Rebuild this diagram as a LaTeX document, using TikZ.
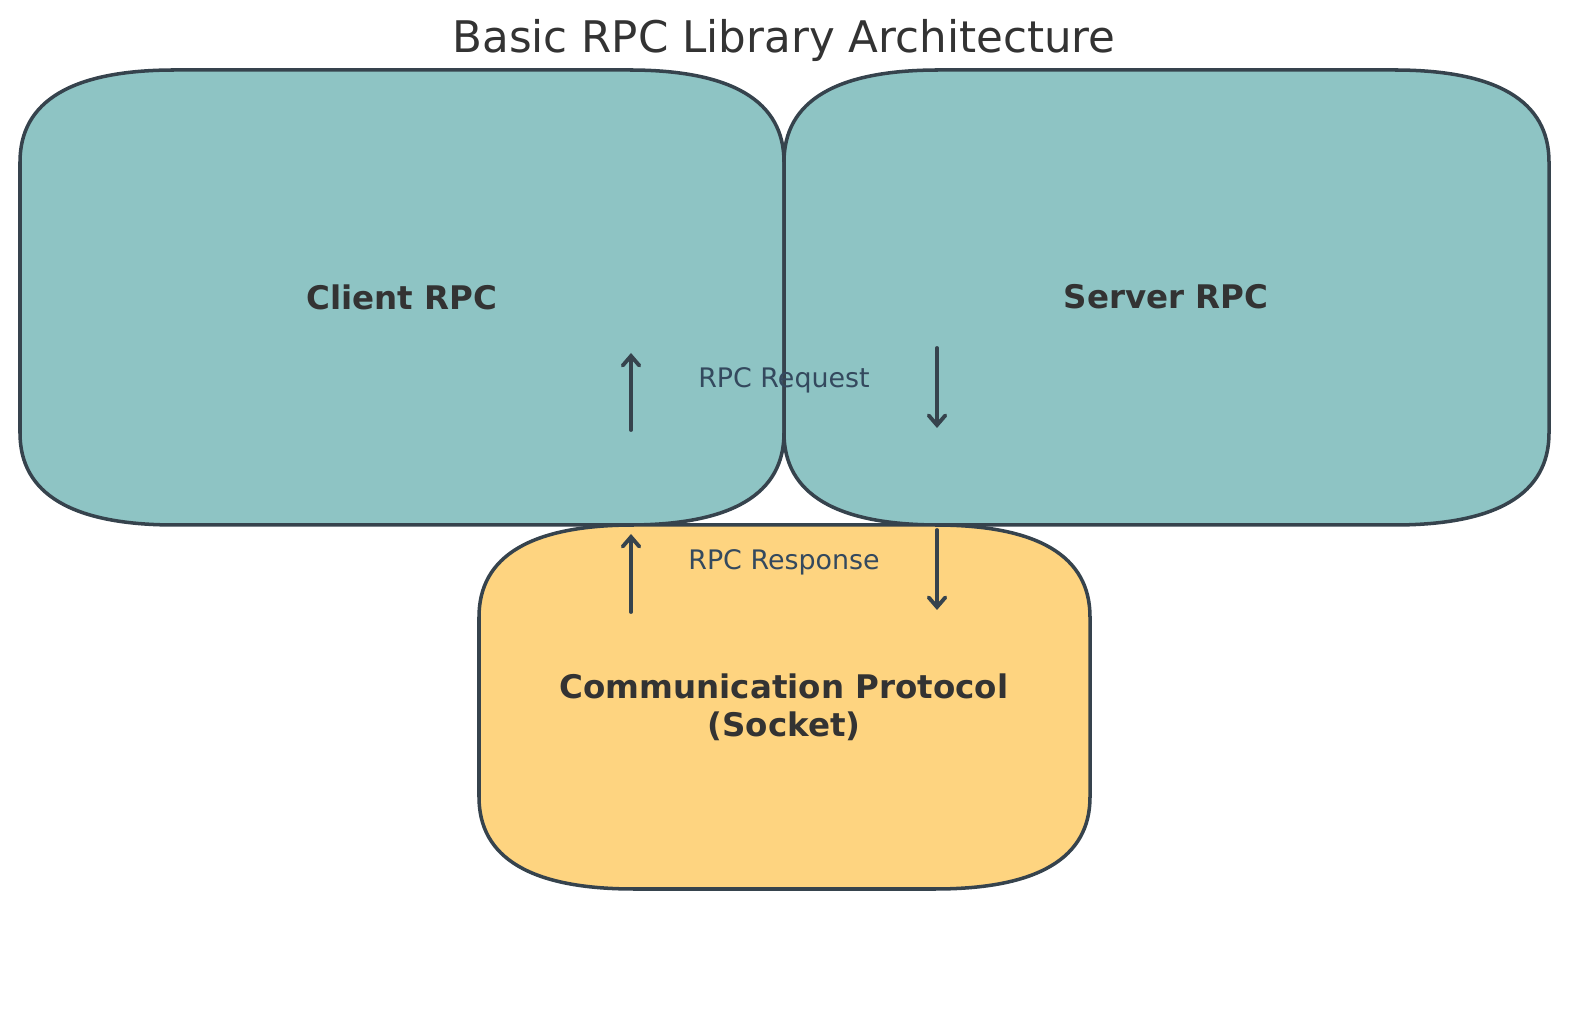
\documentclass[tikz,border=0pt]{standalone}
\usepackage{fontspec}
\setmainfont{DejaVu Sans}
\usetikzlibrary{arrows.meta}
\definecolor{rpcedge}{HTML}{36434D}
\definecolor{rpcteal}{HTML}{8EC4C4}
\definecolor{rpcyellow}{HTML}{FED480}
\definecolor{rpctext}{HTML}{333333}
\definecolor{rpcflowtext}{HTML}{34495E}

\begin{document}
\begin{tikzpicture}[x = 0.02cm, y = 0.02cm,
	rpcbox/.style = {draw = rpcedge, line width = 2pt},
	boxlabel/.style = {text = rpctext, align = center, font = \fontsize{18.5}{21.5}\selectfont\bfseries},
	flowlabel/.style = {text = rpcflowtext, font = \fontsize{15.3}{18}\selectfont},
	flow/.style = {draw = rpcedge, line width = 2.2pt, line cap = round, -{Straight Barb[length = 5.5pt, width = 9.5pt, line cap = round]}}]
	\useasboundingbox (0, 0) rectangle (1589, 1014);
	\fill[white] (0, 0) rectangle (1589, 1014);
	\filldraw[rpcbox, fill = rpcteal] (175, 944) -- (629, 944) .. controls +(103, 0) and +(0, 61) .. (784, 852) -- (784, 581) .. controls +(0, -61) and +(103, 0) .. (629, 489) -- (175, 489) .. controls +(-103, 0) and +(0, -61) .. (20, 581) -- (20, 852) .. controls +(0, 61) and +(-103, 0) .. (175, 944) -- cycle;
	\filldraw[rpcbox, fill = rpcteal] (939, 944) -- (1394, 944) .. controls +(103, 0) and +(0, 61) .. (1549, 852) -- (1549, 581) .. controls +(0, -61) and +(103, 0) .. (1394, 489) -- (939, 489) .. controls +(-103, 0) and +(0, -61) .. (784, 581) -- (784, 852) .. controls +(0, 61) and +(-103, 0) .. (939, 944) -- cycle;
	\filldraw[rpcbox, fill = rpcyellow] (634, 489) -- (935, 489) .. controls +(103, 0) and +(0, 61) .. (1090, 397) -- (1090, 217) .. controls +(0, -61) and +(103, 0) .. (935, 125) -- (634, 125) .. controls +(-103, 0) and +(0, -61) .. (479, 217) -- (479, 397) .. controls +(0, 61) and +(-103, 0) .. (634, 489) -- cycle;
	\node[text = rpctext, font = \fontsize{24.8}{30}\selectfont] (title) at (784, 974) {Basic RPC Library Architecture};
	\node[boxlabel] (client) at (402, 717) {Client RPC};
	\node[boxlabel] (server) at (1166, 717) {Server RPC};
	\node[boxlabel] (protocol) at (784, 307) {Communication Protocol\\(Socket)};
	\node[flowlabel] (request) at (784, 634) {RPC Request};
	\node[flowlabel] (response) at (784, 452) {RPC Response};
	\coordinate (requp0) at (631, 584);
	\coordinate (requp1) at (631, 661);
	\coordinate (reqdown0) at (937, 666);
	\coordinate (reqdown1) at (937, 586);
	\coordinate (resup0) at (631, 402);
	\coordinate (resup1) at (631, 480);
	\coordinate (resdown0) at (937, 484);
	\coordinate (resdown1) at (937, 404);
	\draw[flow] (requp0) -- (requp1);
	\draw[flow] (reqdown0) -- (reqdown1);
	\draw[flow] (resup0) -- (resup1);
	\draw[flow] (resdown0) -- (resdown1);
\end{tikzpicture}
\end{document}
